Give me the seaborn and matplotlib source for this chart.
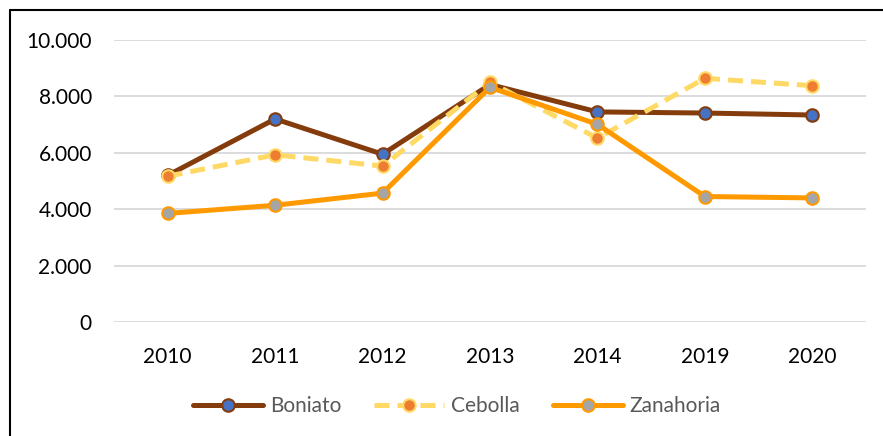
import pandas as pd
import matplotlib.pyplot as plt
import matplotlib.ticker as mticker
from matplotlib.lines import Line2D
import seaborn as sns

years = ['2010', '2011', '2012', '2013', '2014', '2019', '2020']
boniato = [5200, 7200, 5950, 8420, 7450, 7410, 7340]
cebolla = [5170, 5930, 5530, 8500, 6520, 8640, 8380]
zanahoria = [3850, 4140, 4570, 8320, 7010, 4450, 4400]

sns.set_theme(style='white')
plt.rcParams['font.family'] = ['Lato', 'DejaVu Sans']

df = pd.DataFrame({'year': years, 'Boniato': boniato, 'Cebolla': cebolla, 'Zanahoria': zanahoria})

fig = plt.figure(figsize=(8.83, 4.36), dpi=100)
ax = fig.add_axes([114 / 883, 1 - 322 / 436, (866 - 114) / 883, (322 - 40) / 436])

# --- series ---
sns.lineplot(ax=ax, data=df, x='year', y='Boniato', color='#843C0C', lw=3.6, marker='o',
             markersize=9, markerfacecolor='#4472C4', markeredgecolor='#843C0C', markeredgewidth=1.5,
             label='Boniato', zorder=3)
sns.lineplot(ax=ax, data=df, x='year', y='Cebolla', color='#FFD966', lw=3.6, marker='o',
             markersize=9, markerfacecolor='#ED7D31', markeredgecolor='#FFD966', markeredgewidth=1.5,
             linestyle=(0, (3, 1.6)), label='Cebolla', zorder=4)
sns.lineplot(ax=ax, data=df, x='year', y='Zanahoria', color='#FF9900', lw=3.6, marker='o',
             markersize=9, markerfacecolor='#A5A5A5', markeredgecolor='#FF9900', markeredgewidth=1.5,
             label='Zanahoria', zorder=5)

ax.set_xlim(-0.5, len(years) - 0.5)
ax.set_ylim(0, 10000)
ax.set_yticks(range(0, 10001, 2000))
ax.yaxis.set_major_formatter(mticker.FuncFormatter(lambda v, p: f"{int(v):,}".replace(',', '.')))
ax.grid(axis='y', color='#D9D9D9', lw=1.3)
ax.set_axisbelow(True)
for s in ax.spines.values():
    s.set_visible(False)
ax.set_xlabel('')
ax.set_ylabel('')
ax.tick_params(axis='y', labelsize=15, pad=10, colors='black')
ax.tick_params(axis='x', labelsize=15, pad=12, colors='black')

leg = ax.legend(loc='center', bbox_to_anchor=((457 - 114) / (866 - 114), 1 - (406 - 40) / (322 - 40)),
                ncol=3, frameon=False, fontsize=15, handlelength=3.35, columnspacing=1.6,
                handletextpad=0.33)
for t in leg.get_texts():
    t.set_color('#595959')

# outer frame (partly cropped in the reference)
x0 = 10 / 883
y0 = 1 - 10 / 436
fig.add_artist(Line2D([x0, x0], [0, y0], transform=fig.transFigure, color='black', lw=1.5))
fig.add_artist(Line2D([x0, 1], [y0, y0], transform=fig.transFigure, color='black', lw=1.5))

fig.savefig('out.png', dpi=100)
